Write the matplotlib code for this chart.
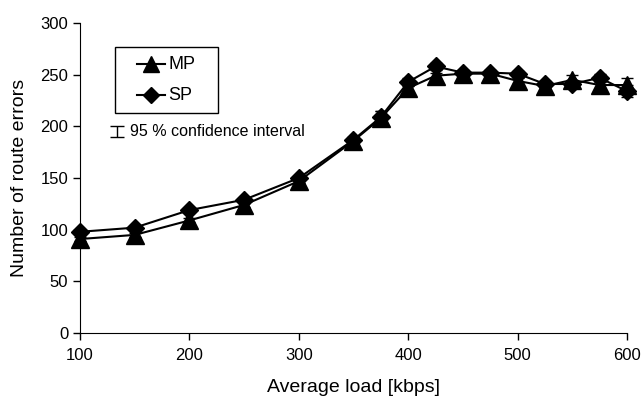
import matplotlib
matplotlib.use("Agg")
import matplotlib.pyplot as plt
from matplotlib.lines import Line2D
from matplotlib.patches import Rectangle

plt.rcParams['font.family'] = ['Liberation Sans', 'DejaVu Sans']

load = [100, 150, 200, 250, 300, 350, 375, 400, 425, 450, 475, 500, 525, 550, 575, 600]
mp = [91, 95, 109, 124, 147, 186, 208, 237, 249, 251, 251, 244, 239, 245, 240, 240]
sp = [98, 102, 119, 129, 150, 187, 209, 243, 258, 252, 252, 251, 241, 241, 247, 234]
mp_err = [2, 2, 2, 2, 2, 3, 7, 4, 3, 3, 3, 3, 3, 5, 4, 7]
sp_err = [2, 2, 2, 2, 2, 3, 6, 4, 3, 3, 3, 3, 3, 4, 4, 6]

fig = plt.figure(figsize=(6.42, 3.97), dpi=100)
ax = fig.add_axes([0.1246, 0.161, 0.852, 0.781])

ax.errorbar(load, mp, yerr=mp_err, color='black', lw=1.5, marker='^', ms=13,
            capsize=4, elinewidth=1, label='MP', clip_on=False, zorder=3)
ax.errorbar(load, sp, yerr=sp_err, color='black', lw=1.5, marker='D', ms=9.5,
            capsize=4, elinewidth=1, label='SP', clip_on=False, zorder=3)

ax.set_xlim(100, 600)
ax.set_ylim(0, 300)
ax.set_xticks(range(100, 601, 100))
ax.set_yticks(range(0, 301, 50))
for s in ['top', 'right']:
    ax.spines[s].set_visible(False)
ax.tick_params(direction='out', length=5, labelsize=12, width=1)
ax.tick_params(axis='x', pad=6)
ax.set_xlabel('Average load [kbps]', fontsize=14, labelpad=11)
ax.set_ylabel('Number of route errors', fontsize=14, labelpad=9)

# legend drawn in axes-fraction coordinates
T = ax.transAxes
ax.add_patch(Rectangle((0.064, 0.7097), 0.1883, 0.2129, transform=T,
                       fill=False, edgecolor='black', lw=1.0, zorder=4))
labels = ['MP', 'SP']
markers = ['^', 'D']
msizes = [11, 8]
rows = [0.8677, 0.7677]
for lab, mk, msz, ry in zip(labels, markers, msizes, rows):
    ax.add_line(Line2D([0.1042, 0.1554], [ry, ry], transform=T, color='black', lw=1.5))
    ax.add_line(Line2D([0.1298], [ry], transform=T, color='black', marker=mk, ms=msz))
    ax.text(0.1609, ry, lab, transform=T, fontsize=13, va='center', ha='left')

# confidence interval key
ax.errorbar([133.8], [194.7], yerr=[5.3], color='black', capsize=5, elinewidth=1, lw=0)
ax.text(145.7, 194.7, '95 % confidence interval', fontsize=11.5, va='center', ha='left')

fig.savefig('out.png', dpi=100)
